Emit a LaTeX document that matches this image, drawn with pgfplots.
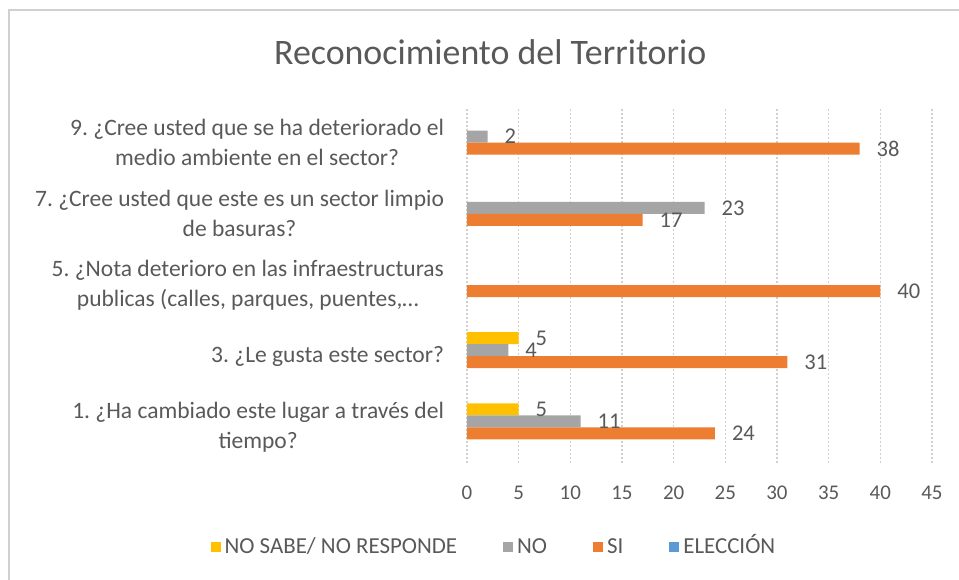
\documentclass[border=0pt]{standalone}
\usepackage{pgfplots}
\pgfplotsset{compat=1.18}
\usepackage{fontspec}
\setmainfont{Carlito}
\frenchspacing
\definecolor{cYel}{HTML}{FFC000}
\definecolor{cGry}{HTML}{A5A5A5}
\definecolor{cOra}{HTML}{ED7D31}
\definecolor{cBlu}{HTML}{5B9BD5}
\definecolor{cTxt}{HTML}{595959}
\definecolor{cGrid}{HTML}{D0D0D0}
\begin{document}
\begin{tikzpicture}
\path[use as bounding box] (-233.5bp,-58.5bp) rectangle (246bp,231.5bp);
\draw[cGrid, line width=0.6bp] (-229bp,-60bp) -- (-229bp,226.5bp) -- (250bp,226.5bp);
\begin{axis}[
    at={(0,0)}, anchor=south west,
    scale only axis,
    width=232.5bp, height=178bp,
    xbar, bar width=6bp,
    xmin=0, xmax=45,
    ymin=0.5, ymax=5.5,
    xtick={0,5,10,15,20,25,30,35,40,45},
    ytick={1,2,3,4,5},
    yticklabels={
        {1. ¿Ha cambiado este lugar a través del\\tiempo?},
        {3. ¿Le gusta este sector?},
        {5. ¿Nota deterioro en las infraestructuras\\publicas (calles, parques, puentes,…},
        {7. ¿Cree usted que este es un sector limpio\\de basuras?},
        {9. ¿Cree usted que se ha deteriorado el\\medio ambiente en el sector?}},
    major tick length=0pt,
    axis line style={draw=none},
    xmajorgrids,
    grid style={cGrid, dash pattern=on 1bp off 1bp, line width=0.6bp},
    /pgf/number format/assume math mode=true,
    tick label style={font=\fontsize{10.5}{12}\selectfont, text=cTxt},
    yticklabel style={align=center, font=\fontsize{11.8}{15}\selectfont, xshift=-8bp},
    xticklabel style={yshift=-8bp},
    title={Reconocimiento del Territorio},
    title style={at={(0.05,1.12)}, anchor=center, font=\fontsize{18}{20}\selectfont, text=cTxt},
    nodes near coords,
    every node near coord/.append style={font=\fontsize{11.3}{12}\selectfont, text=cTxt, anchor=west, xshift=5bp},
    legend columns=4,
    legend style={at={(0.06,-0.236)}, anchor=center, draw=none, fill=none,
        font=\fontsize{11.5}{12}\selectfont, text=cTxt,
        nodes={text height=8bp, text depth=1.5bp},
        /tikz/every even column/.append style={column sep=21bp}},
    legend image code/.code={\fill[#1] (0bp,-2.5bp) rectangle (5bp,2.5bp);},
]
\addplot[fill=cYel, draw=none, bar shift=9bp] coordinates {(5,1) (5,2)};
\addlegendentry{NO SABE/ NO RESPONDE}
\addplot[fill=cGry, draw=none, bar shift=3bp] coordinates {(11,1) (4,2) (23,4) (2,5)};
\addlegendentry{NO}
\addplot[fill=cOra, draw=none, bar shift=-3bp] coordinates {(24,1) (31,2) (40,3) (17,4) (38,5)};
\addlegendentry{SI}
\addlegendimage{fill=cBlu, draw=none}
\addlegendentry{ELECCIÓN}
\end{axis}
\end{tikzpicture}
\end{document}
